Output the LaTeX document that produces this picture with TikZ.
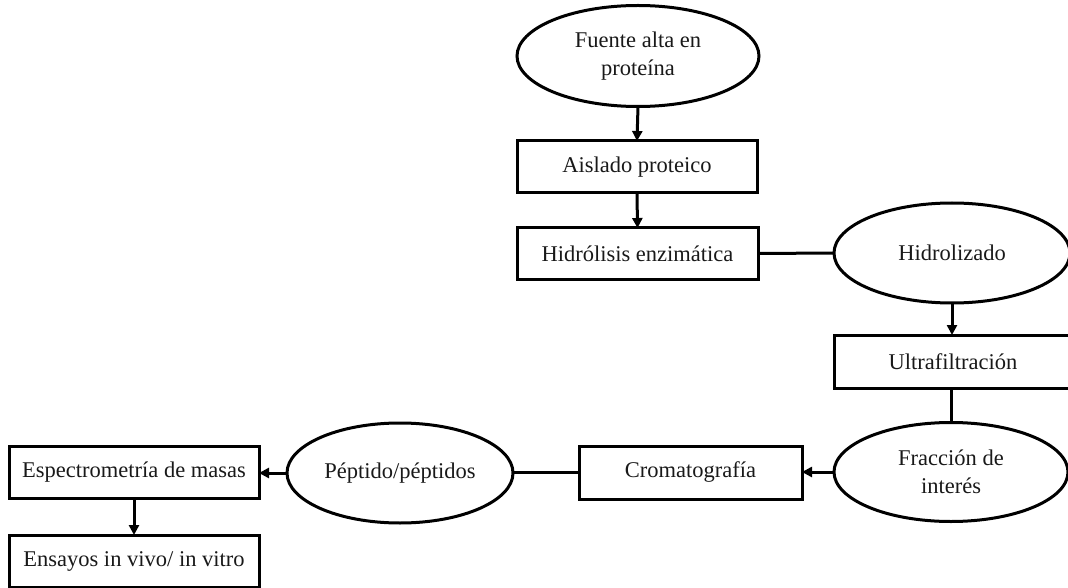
\documentclass[tikz,border=0pt]{standalone}
\usepackage{fontspec}
\setmainfont{Liberation Serif}
\usetikzlibrary{shapes.geometric,arrows.meta}
\begin{document}
\begin{tikzpicture}[x=1pt,y=-1pt,
  base/.style={draw=black,line width=3pt,inner sep=0pt,outer sep=0pt,
    font=\fontsize{22.5}{28}\selectfont,align=center,text=black!90},
  oval/.style={base,ellipse},
  boxn/.style={base,rectangle},
  link/.style={line width=3pt},
  arr/.style={link,-{Triangle[length=10pt,width=10pt]}}]
\useasboundingbox (0,0) rectangle (1068,588);
\begin{scope}
\clip (0,0) rectangle (1068,588);
\node[oval,minimum width=242pt,minimum height=101pt] (fuente) at (638,56) {Fuente alta en\\proteína};
\node[boxn,minimum width=240pt,minimum height=52pt] (aislado) at (637,167) {Aislado proteico};
\node[boxn,minimum width=241pt,minimum height=51pt] (hidro) at (637.5,253.5) {Hidrólisis enzimática};
\node[oval,minimum width=236pt,minimum height=100pt] (hidrolizado) at (952,253) {Hidrolizado};
\node[boxn,minimum width=238pt,minimum height=53pt] (ultra) at (953,361.5) {Ultrafiltración};
\node[oval,minimum width=234pt,minimum height=99pt] (fraccion) at (951,472) {Fracción de\\interés};
\node[boxn,minimum width=223pt,minimum height=53pt] (croma) at (690.5,472.5) {Cromatografía};
\node[oval,minimum width=226pt,minimum height=100pt] (peptido) at (400,473) {Péptido/péptidos};
\node[boxn,minimum width=250pt,minimum height=52pt] (espectro) at (134,472) {Espectrometría de masas};
\node[boxn,minimum width=250pt,minimum height=52pt] (ensayos) at (134,561) {Ensayos in vivo/ in vitro};
\end{scope}
\draw[arr] (fuente.south) -- (aislado.north);
\draw[arr] (aislado.south) -- (hidro.north);
\draw[link] (hidro.east) -- (hidrolizado.west);
\draw[arr] (hidrolizado.south) -- (hidrolizado.south |- ultra.north);
\draw[link] (fraccion.north |- ultra.south) -- (fraccion.north);
\draw[arr] (fraccion.west) -- (fraccion.west -| croma.east);
\draw[link] (croma.west) -- (croma.west -| peptido.east);
\draw[arr] (peptido.west) -- (peptido.west -| espectro.east);
\draw[arr] (espectro.south) -- (ensayos.north);
\end{tikzpicture}
\end{document}
